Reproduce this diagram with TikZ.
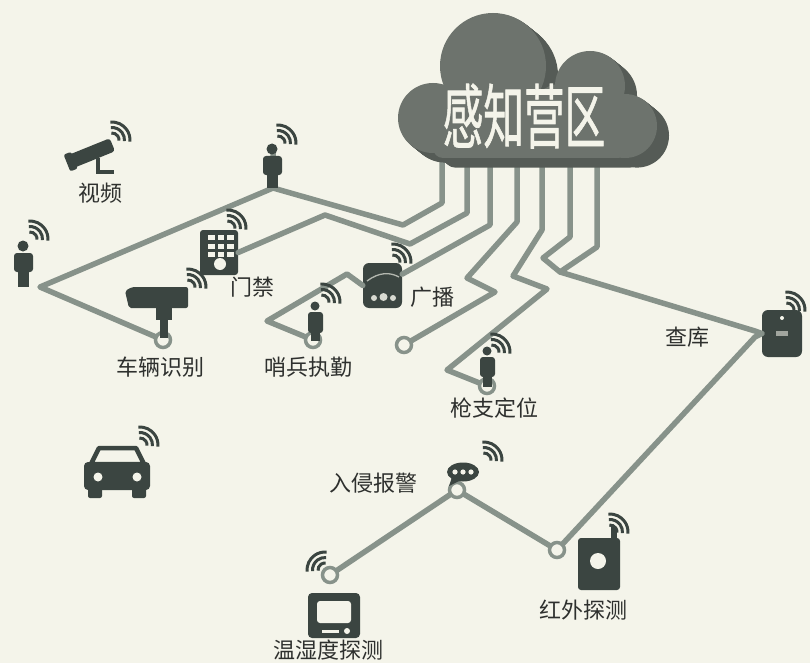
\documentclass[tikz,border=0pt]{standalone}
\usepackage{fontspec}
\newfontfamily\cjk{Noto Sans CJK SC}
\newfontfamily\cloudfont[FakeBold=1.2]{Noto Sans CJK SC}
\definecolor{paper}{HTML}{F4F4EA}
\definecolor{wire}{HTML}{87928A}
\definecolor{ink}{HTML}{3B4541}
\definecolor{labelink}{HTML}{2E302E}
\definecolor{cloudface}{HTML}{6D736D}
\definecolor{cloudside}{HTML}{555B56}

% one layer of the cloud body
\newcommand\cloudblob[1]{%
  \fill[#1] (433,118) circle[radius=35];
  \fill[#1] (493,66) circle[radius=53];
  \fill[#1] (590,86) circle[radius=35];
  \fill[#1] (625,126) circle[radius=32];
  \fill[#1] (560,112) circle[radius=28];
  \fill[#1,rounded corners=10] (433,96) rectangle (628,158);
}

\begin{document}
\begin{tikzpicture}[x=1pt,y=-1pt,
  wireline/.style={draw=wire,line width=5.5pt,line join=round,line cap=round},
  ring/.style={circle,draw=wire,line width=3.5pt,fill=paper,minimum size=15pt,inner sep=0pt},
  device/.style={fill=ink,inner sep=0pt},
  wifiarc/.style={draw=ink,line width=3pt},
  lbl/.style={font=\cjk\fontsize{22}{22}\selectfont,text=labelink,inner sep=0pt},
  wifi/.pic={\foreach \rr in {7,12.5,18} \draw[wifiarc] (-95:\rr) arc[start angle=-95,end angle=5,radius=\rr];}
]
\useasboundingbox (0,0) rectangle (810,663);
\fill[paper] (0,0) rectangle (810,663);

% ---------- anchor points ----------
\coordinate (c1) at (442,150);
\coordinate (c2) at (467,150);
\coordinate (c3) at (490,150);
\coordinate (c4) at (517,150);
\coordinate (c5) at (542,150);
\coordinate (c6) at (570,150);
\coordinate (c7) at (597,150);
\coordinate (jTop) at (273,188);
\coordinate (tipL) at (40,287);
\coordinate (jStore) at (560,272);

% ---------- devices with wire ports ----------
\node[device,rounded corners=3pt,minimum width=38pt,minimum height=45pt] (keypad) at (219,252.5) {};
\node[device,rounded corners=6pt,minimum width=39pt,minimum height=45pt] (bcast) at (382.5,285.5) {};
\node[device,rounded corners=6pt,minimum width=40pt,minimum height=47pt] (store) at (782,333.5) {};

% ---------- wires ----------
\draw[wireline] (c1) -- (442,203) -- (403,225) -- (jTop);
\draw[wireline] (c2) -- (467,213) -- (410,244) -- (325,215) -- (keypad.east);
\draw[wireline] (c3) -- (490,225) -- (bcast.30);
\draw[wireline] (c4) -- (517,222) -- (467,278) -- (495,292) -- (404,345);
\draw[wireline] (c5) -- (542,230) -- (513,276) -- (547,289) -- (447,370) -- (487,386);
\draw[wireline] (c6) -- (570,237) -- (543,258) -- (jStore);
\draw[wireline] (c7) -- (597,247) -- (jStore) -- (755,331) -- (store.west);
\draw[wireline] (273,150) -- (jTop) -- (tipL) -- (163,340);
\draw[wireline] (bcast.west) -- (347,274) -- (267,321) -- (313,340);
\draw[wireline] (457,490) -- (330,575);
\draw[wireline] (457,490) -- (557,550) -- (755,337) -- (store.west);

% ---------- rings ----------
\node[ring] (ringCar) at (163,340) {};
\node[ring] (ringSent) at (313,340) {};
\node[ring] (ringEnd) at (404,345) {};
\node[ring] (ringGun) at (487,386) {};
\node[ring] (ringAlarm) at (457,490) {};
\node[ring] (ringThermo) at (330,575) {};
\node[ring] (ringInfra) at (557,550) {};

% ---------- cloud ----------
\foreach \d in {12,11,...,1} {
  \begin{scope}[shift={(\d,0.8*\d)}]
    \cloudblob{cloudside}
  \end{scope}
}
\cloudblob{cloudface}
\node[font=\cloudfont\fontsize{70}{70}\selectfont,text=paper,xscale=0.58,inner sep=0pt] (title) at (524,116) {感知营区};

% ---------- icons ----------
% video camera on a wall bracket
\begin{scope}[shift={(92,153)},rotate=22]
  \fill[ink,rounded corners=3] (-22,-7) rectangle (22,7);
  \fill[ink,rounded corners=2] (-27,-9) rectangle (-19,9);
\end{scope}
\draw[ink,line width=3.5pt] (98,158) -- (98,172) -- (114,172);

% standing people
\fill[ink] (272,149) circle[radius=5.5];
\fill[ink,rounded corners=3] (263,156) rectangle (282,175);
\fill[ink] (267,172) rectangle (278,188);
\fill[ink] (23,246) circle[radius=5.5];
\fill[ink,rounded corners=3] (14,253) rectangle (33,272);
\fill[ink] (18,269) rectangle (29,287);

% keypad details
\foreach \i in {0,1,2} \foreach \j in {0,1,2}
  \fill[paper] (208+9.5*\i,235+8.5*\j) rectangle ++(6.5,5);
\fill[paper] (220,264) circle[radius=6];

% box camera on a post
\fill[ink,rounded corners=2] (125,291) -- (132,287) -- (188,287) -- (188,308) -- (129,308) -- cycle;
\fill[ink] (156,306) rectangle (172,320);
\fill[ink] (159.5,318) rectangle (167.5,338);

% broadcast speaker details
\draw[paper!65!ink,line width=1.3pt] (367,281) .. controls (379,272) and (390,272) .. (399,277);
\fill[paper!85!ink] (374,298) circle[radius=3];
\fill[paper!85!ink] (383.5,297) circle[radius=4];
\fill[paper!85!ink] (393,298) circle[radius=3];

% sentry and armed guard figures
\fill[ink] (315,306) circle[radius=4.5];
\fill[ink,rounded corners=3] (308,312) rectangle (323,333);
\fill[ink] (311,330) rectangle (320,341);
\fill[ink] (487,351) circle[radius=4.5];
\fill[ink,rounded corners=3] (480,357) rectangle (495,377);
\fill[ink] (483,374) rectangle (492,387);

% inspection terminal details
\fill[paper] (782,318) circle[radius=2];
\fill[paper!55!ink] (776,331) rectangle (788,336);

% car
\draw[ink,line width=4.5pt,line join=round,fill=paper] (99,448) -- (136,448) -- (144,464) -- (91,464) -- cycle;
\fill[ink,rounded corners=4] (84,462) rectangle (150,490);
\fill[ink,rounded corners=2] (88,486) rectangle (102,498);
\fill[ink,rounded corners=2] (132,486) rectangle (146,498);
\fill[paper] (98,477) circle[radius=4.5];
\fill[paper] (137,477) circle[radius=4.5];

% intrusion alarm bubble
\fill[ink] (463,472) ellipse[x radius=16,y radius=9.5];
\fill[ink] (452,477) -- (449,486) -- (461,480) -- cycle;
\foreach \k in {0,1,2} \fill[paper] (455+8*\k,472) circle[radius=2.6];

% temperature / humidity monitor
\node[device,rounded corners=4pt,minimum width=52pt,minimum height=45pt] (thermo) at (334,615.5) {};
\fill[paper,rounded corners=3] (317,601) rectangle (351,623);
\fill[paper] (322,629.5) rectangle (339,633);
\fill[paper] (347,631) circle[radius=3];

% infrared detector
\node[device,rounded corners=3pt,minimum width=42pt,minimum height=52pt] (infra) at (599,564) {};
\fill[ink] (611,527) rectangle (617,540);
\fill[paper] (598,561) circle[radius=8];

% ---------- wireless marks ----------
\pic at (112,140) {wifi};
\pic at (278,143) {wifi};
\pic at (30,239) {wifi};
\pic at (228,228) {wifi};
\pic at (188,287) {wifi};
\pic at (393,262) {wifi};
\pic at (322,302) {wifi};
\pic at (492,352) {wifi};
\pic at (787,310) {wifi};
\pic at (140,445) {wifi};
\pic at (484,460) {wifi};
\pic at (610,532) {wifi};
\pic[rotate=90] at (325,570) {wifi};

% ---------- labels ----------
\node[lbl] (tVideo) at (100,193) {视频};
\node[lbl] (tGate) at (252,287) {门禁};
\node[lbl] (tPlate) at (160,367) {车辆识别};
\node[lbl] (tCast) at (432,297) {广播};
\node[lbl] (tSentry) at (308,367) {哨兵执勤};
\node[lbl] (tGun) at (494,408) {枪支定位};
\node[lbl] (tStore) at (687,337) {查库};
\node[lbl] (tAlarm) at (373,483) {入侵报警};
\node[lbl] (tThermo) at (328,650) {温湿度探测};
\node[lbl] (tInfra) at (583,610) {红外探测};
\end{tikzpicture}
\end{document}
